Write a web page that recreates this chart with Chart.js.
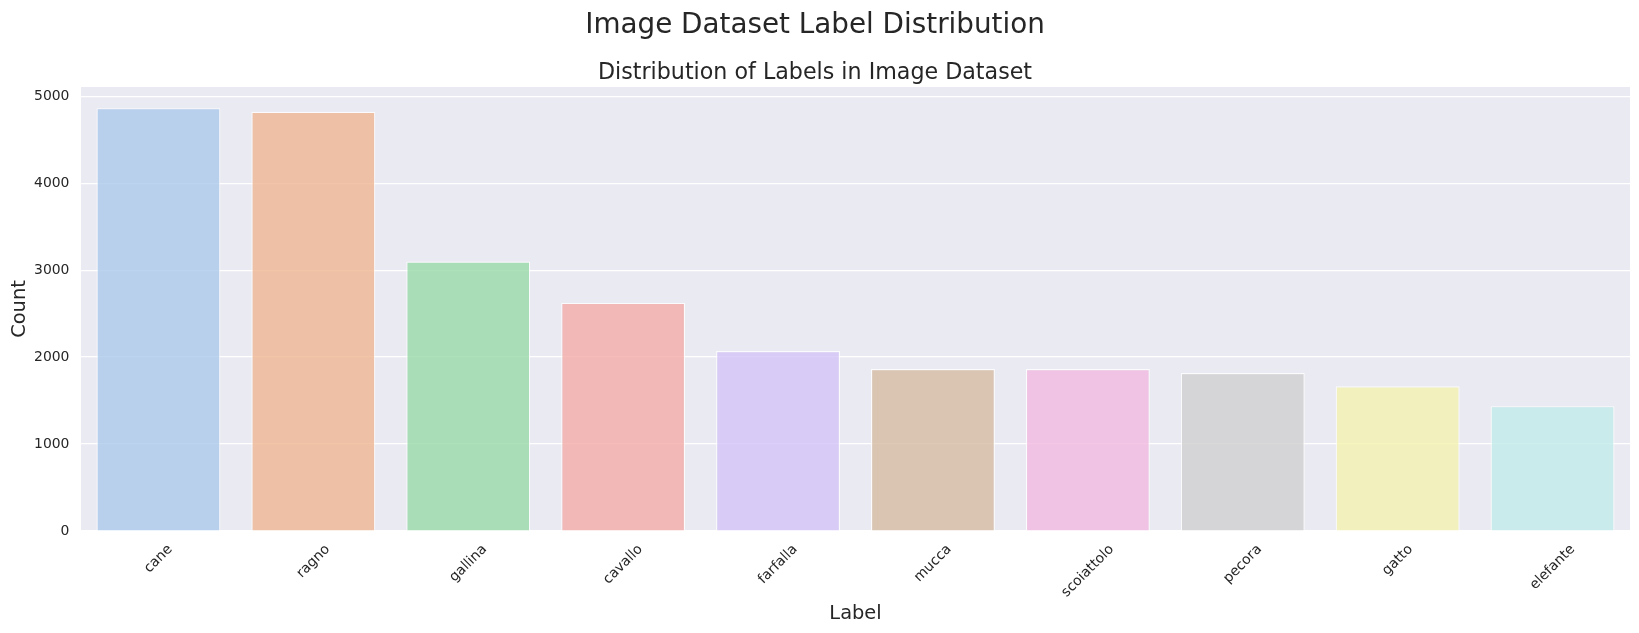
<!DOCTYPE html>
<html>
<head>
<meta charset="utf-8">
<script src="https://cdn.jsdelivr.net/npm/chart.js@4.4.1/dist/chart.umd.min.js"></script>
<style>
  html, body { margin: 0; padding: 0; background: #ffffff; }
  #wrap { width: 1639px; height: 633px; }
</style>
</head>
<body>
<div id="wrap"><canvas id="chart"></canvas></div>
<script>
// Dati
const labels = ["cane", "ragno", "gallina", "cavallo", "farfalla", "mucca", "scoiattolo", "pecora", "gatto", "elefante"];
const counts = [4863, 4821, 3098, 2623, 2070, 1862, 1862, 1816, 1665, 1436];
const yTickValues = [0, 1000, 2000, 3000, 4000, 5000];
const yMax = 5106;

// palette "pastel" di seaborn
const pastel = ["#a1c9f4", "#ffb482", "#8de5a1", "#ff9f9b", "#d0bbff", "#debb9b", "#fab0e4", "#cfcfcf", "#fffea3", "#b9f2f0"];

// seaborn barplot desatura i colori (saturation=0.75)
function desaturate(hex, prop, alpha) {
  const r = parseInt(hex.slice(1, 3), 16) / 255;
  const g = parseInt(hex.slice(3, 5), 16) / 255;
  const b = parseInt(hex.slice(5, 7), 16) / 255;
  const max = Math.max(r, g, b), min = Math.min(r, g, b);
  const l = (max + min) / 2;
  let h = 0, s = 0;
  if (max !== min) {
    const d = max - min;
    s = l <= 0.5 ? d / (max + min) : d / (2 - max - min);
    if (max === r) h = ((g - b) / d) % 6;
    else if (max === g) h = (b - r) / d + 2;
    else h = (r - g) / d + 4;
    h = (h * 60 + 360) % 360;
  }
  s *= prop;
  const c = (1 - Math.abs(2 * l - 1)) * s;
  const x = c * (1 - Math.abs(((h / 60) % 2) - 1));
  const m = l - c / 2;
  let rgb;
  if (h < 60) rgb = [c, x, 0];
  else if (h < 120) rgb = [x, c, 0];
  else if (h < 180) rgb = [0, c, x];
  else if (h < 240) rgb = [0, x, c];
  else if (h < 300) rgb = [x, 0, c];
  else rgb = [c, 0, x];
  const [rr, gg, bb] = rgb.map((v) => Math.round((v + m) * 255));
  return `rgba(${rr}, ${gg}, ${bb}, ${alpha})`;
}

const barColors = pastel.map((c) => desaturate(c, 0.75, 0.8));

const textColor = "#262626";
const fontFamily = "'DejaVu Sans', sans-serif";
const tickFontSize = 13.9;

// sfondo grigio dell'area del grafico
const plotBackground = {
  id: "plotBackground",
  beforeDraw(chart) {
    const { ctx, chartArea: a } = chart;
    ctx.save();
    ctx.fillStyle = "#eaeaf2";
    ctx.fillRect(a.left, a.top, a.width, a.height);
    ctx.restore();
  },
};

// etichette dell'asse x ruotate di 45° e centrate sul tick
const centeredTickLabels = {
  id: "centeredTickLabels",
  afterDraw(chart) {
    const { ctx } = chart;
    const xScale = chart.scales.x;
    ctx.save();
    ctx.font = `${tickFontSize}px ${fontFamily}`;
    ctx.fillStyle = textColor;
    ctx.textAlign = "center";
    ctx.textBaseline = "middle";
    labels.forEach((lab, i) => {
      const w = ctx.measureText(lab).width;
      const px = xScale.getPixelForTick(i);
      const cy = xScale.top + 10.4 + (w + 16.2) * 0.3536;
      ctx.save();
      ctx.translate(px, cy);
      ctx.rotate(-Math.PI / 4);
      ctx.fillText(lab, 0, 0);
      ctx.restore();
    });
    ctx.restore();
  },
};

const ctx = document.getElementById("chart").getContext("2d");

new Chart(ctx, {
  type: "bar",
  data: {
    labels: labels,
    datasets: [
      {
        label: "Count",
        data: counts,
        backgroundColor: barColors,
        borderColor: "rgba(255, 255, 255, 0.8)",
        borderWidth: 1.2,
        barPercentage: 0.8,
        categoryPercentage: 1.0,
      },
    ],
  },
  options: {
    responsive: true,
    maintainAspectRatio: false,
    animation: false,
    layout: { padding: { left: 0, right: 9, top: 0, bottom: 0 } },
    plugins: {
      legend: { display: false },
      tooltip: { enabled: false },
      title: {
        display: true,
        text: "Image Dataset Label Distribution",
        color: textColor,
        font: { family: fontFamily, size: 27.8, weight: "normal", lineHeight: 1.2 },
        padding: { top: 9, bottom: 8.3 },
      },
      subtitle: {
        display: true,
        text: "Distribution of Labels in Image Dataset",
        color: textColor,
        font: { family: fontFamily, size: 22.2, weight: "normal", lineHeight: 1.2 },
        padding: { top: 9.3, bottom: 0.4 },
      },
    },
    scales: {
      x: {
        grid: { display: false },
        border: { display: false },
        ticks: { display: false },
        afterFit(scale) {
          scale.height = 102;
        },
        title: {
          display: true,
          text: "Label",
          color: textColor,
          font: { family: fontFamily, size: 19.4, lineHeight: 1.2 },
          padding: { top: 0, bottom: 7.2 },
        },
      },
      y: {
        min: 0,
        max: yMax,
        grid: { color: "#ffffff", lineWidth: 1.2, drawTicks: false },
        border: { display: false },
        afterBuildTicks(scale) {
          scale.ticks = yTickValues.map((v) => ({ value: v }));
        },
        afterFit(scale) {
          scale.width = 81;
        },
        ticks: {
          color: textColor,
          padding: 11.6,
          font: { family: fontFamily, size: tickFontSize },
          callback: (value) => String(value),
        },
        title: {
          display: true,
          text: "Count",
          color: textColor,
          font: { family: fontFamily, size: 19.4, lineHeight: 1.2 },
          padding: { top: 8.5, bottom: 0 },
        },
      },
    },
  },
  plugins: [plotBackground, centeredTickLabels],
});
</script>
</body>
</html>
